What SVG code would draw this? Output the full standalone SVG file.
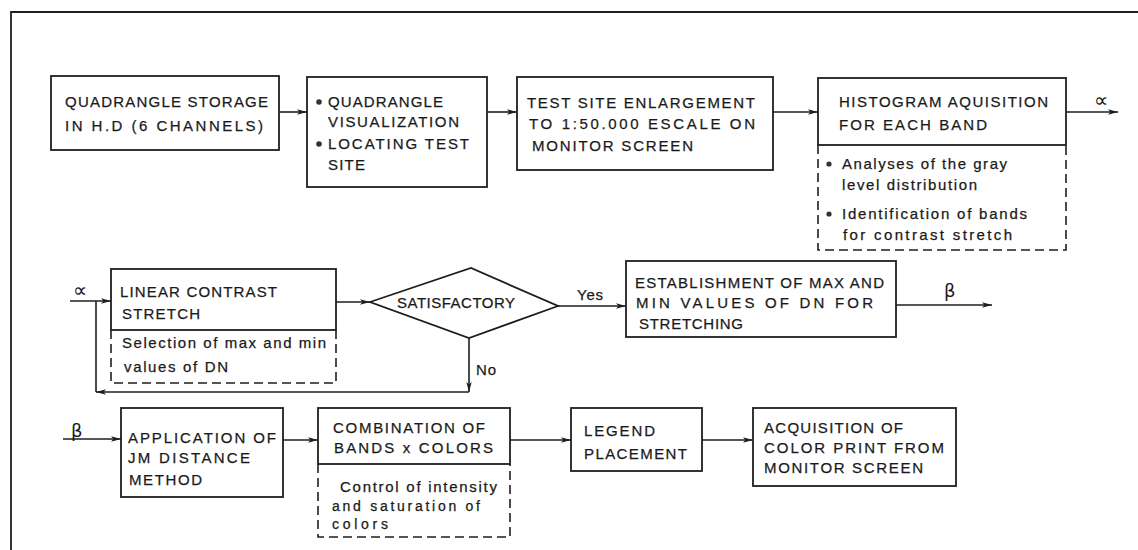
<svg xmlns="http://www.w3.org/2000/svg" width="1138" height="550" viewBox="0 0 1138 550">
<defs>
<style>
.b{fill:none;stroke:#1e1e1e;stroke-width:1.8}
.d{fill:none;stroke:#1e1e1e;stroke-width:1.6;stroke-dasharray:9 5}
.c{fill:none;stroke:#1e1e1e;stroke-width:1.6}
.t{font-family:"Liberation Sans",Arial,sans-serif;font-size:15px;fill:#1a1a1a;stroke:#1a1a1a;stroke-width:0.25}
.s{font-family:"Liberation Sans",Arial,sans-serif;font-size:15px;fill:#1a1a1a;stroke:#1a1a1a;stroke-width:0.25}
.g{font-family:"DejaVu Sans","Liberation Sans",sans-serif;font-size:20px;fill:#1a1a1a}
.dot{fill:#333}
</style>
<marker id="ah" viewBox="0 0 10 6" refX="10" refY="3" markerWidth="10" markerHeight="6" markerUnits="userSpaceOnUse" orient="auto">
<path d="M0,0.3 L10,3 L0,5.7 L2.5,3 Z" fill="#1e1e1e"/>
</marker>
</defs>
<rect width="1138" height="550" fill="#fff"/>
<path class="b" d="M11,550 V12 H1138"/>

<g id="n1">
<rect class="b" x="51" y="76" width="228" height="74"/>
<text class="t" x="65" y="107" textLength="203" lengthAdjust="spacing">QUADRANGLE STORAGE</text>
<text class="t" x="65" y="131" textLength="198" lengthAdjust="spacing">IN H.D (6 CHANNELS)</text>
</g>

<g id="n2">
<rect class="b" x="307" y="77" width="180" height="110"/>
<circle class="dot" cx="319" cy="102" r="2.8"/>
<circle class="dot" cx="319" cy="144" r="2.8"/>
<text class="t" x="328" y="107" textLength="115" lengthAdjust="spacing">QUADRANGLE</text>
<text class="t" x="328" y="127" textLength="131" lengthAdjust="spacing">VISUALIZATION</text>
<text class="t" x="328" y="149" textLength="141" lengthAdjust="spacing">LOCATING TEST</text>
<text class="t" x="328" y="170" textLength="37" lengthAdjust="spacing">SITE</text>
</g>

<g id="n3">
<rect class="b" x="517" y="77" width="256" height="93"/>
<text class="t" x="527" y="108" textLength="228" lengthAdjust="spacing">TEST SITE ENLARGEMENT</text>
<text class="t" x="529" y="129" textLength="226" lengthAdjust="spacing">TO  1:50.000 ESCALE ON</text>
<text class="t" x="532" y="151" textLength="161" lengthAdjust="spacing">MONITOR SCREEN</text>
</g>

<g id="n4">
<rect class="b" x="818" y="78" width="248" height="67"/>
<path class="d" d="M818,145 V250 H1066 V145"/>
<text class="t" x="839" y="107" textLength="209" lengthAdjust="spacing">HISTOGRAM AQUISITION</text>
<text class="t" x="839" y="130" textLength="148" lengthAdjust="spacing">FOR EACH BAND</text>
<circle class="dot" cx="829" cy="164" r="2.6"/>
<circle class="dot" cx="829" cy="214" r="2.6"/>
<text class="s" x="842" y="169" textLength="165" lengthAdjust="spacing">Analyses of the gray</text>
<text class="s" x="842" y="190" textLength="135" lengthAdjust="spacing">level distribution</text>
<text class="s" x="842" y="219" textLength="185" lengthAdjust="spacing">Identification of bands</text>
<text class="s" x="843" y="240" textLength="169" lengthAdjust="spacing">for contrast stretch</text>
</g>

<g id="n5">
<rect class="b" x="111" y="269" width="225" height="61"/>
<path class="d" d="M111,330 V383 H336 V330"/>
<text class="t" x="120" y="297" textLength="157" lengthAdjust="spacing">LINEAR CONTRAST</text>
<text class="t" x="122" y="319" textLength="78" lengthAdjust="spacing">STRETCH</text>
<text class="s" x="122" y="348" textLength="204" lengthAdjust="spacing">Selection of max and min</text>
<text class="s" x="124" y="372" textLength="104" lengthAdjust="spacing">values of DN</text>
</g>

<g id="n6">
<path class="b" d="M370,302 L471,268 L558,306 L469,338 Z"/>
<text class="t" x="397" y="308" textLength="118" lengthAdjust="spacing">SATISFACTORY</text>
</g>

<g id="n7">
<rect class="b" x="626" y="261" width="270" height="76"/>
<text class="t" x="635" y="288" textLength="249" lengthAdjust="spacing">ESTABLISHMENT OF MAX AND</text>
<text class="t" x="636" y="308" textLength="237" lengthAdjust="spacing">MIN VALUES OF DN FOR</text>
<text class="t" x="639" y="329" textLength="104" lengthAdjust="spacing">STRETCHING</text>
</g>

<g id="n8">
<rect class="b" x="121" y="408" width="162" height="89"/>
<text class="t" x="128" y="443" textLength="148" lengthAdjust="spacing">APPLICATION OF</text>
<text class="t" x="128" y="463" textLength="122" lengthAdjust="spacing">JM DISTANCE</text>
<text class="t" x="129" y="485" textLength="73" lengthAdjust="spacing">METHOD</text>
</g>

<g id="n9">
<rect class="b" x="318" y="408" width="192" height="56"/>
<path class="d" d="M318,464 V537 H510 V464"/>
<text class="t" x="333" y="433" textLength="152" lengthAdjust="spacing">COMBINATION OF</text>
<text class="t" x="334" y="453" textLength="159" lengthAdjust="spacing">BANDS x COLORS</text>
<text class="s" x="340" y="492" textLength="157" lengthAdjust="spacing">Control of intensity</text>
<text class="s" x="332" y="511" textLength="148" lengthAdjust="spacing" style="font-size:14px">and saturation of</text>
<text class="s" x="332" y="529" textLength="56" lengthAdjust="spacing" style="font-size:14px">colors</text>
</g>

<g id="n10">
<rect class="b" x="571" y="408" width="131" height="63"/>
<text class="t" x="584" y="436" textLength="71" lengthAdjust="spacing">LEGEND</text>
<text class="t" x="584" y="459" textLength="103" lengthAdjust="spacing">PLACEMENT</text>
</g>

<g id="n11">
<rect class="b" x="753" y="408" width="203" height="78"/>
<text class="t" x="764" y="433" textLength="139" lengthAdjust="spacing">ACQUISITION OF</text>
<text class="t" x="764" y="453" textLength="180" lengthAdjust="spacing">COLOR PRINT FROM</text>
<text class="t" x="764" y="473" textLength="159" lengthAdjust="spacing">MONITOR SCREEN</text>
</g>

<g id="connectors">
<path class="c" d="M1066,112 H1118" marker-end="url(#ah)"/>
<path class="c" d="M279,112 H307" marker-end="url(#ah)"/>
<path class="c" d="M487,112 H517" marker-end="url(#ah)"/>
<path class="c" d="M773,112 H818" marker-end="url(#ah)"/>
<text class="g" x="1094" y="107">∝</text>
<path class="c" d="M70,301 H111" marker-end="url(#ah)"/>
<text class="g" x="73" y="297">∝</text>
<path class="c" d="M336,302 H370" marker-end="url(#ah)"/>
<path class="c" d="M558,306 H626" marker-end="url(#ah)"/>
<text class="t" x="577" y="300" textLength="26" lengthAdjust="spacing">Yes</text>
<path class="c" d="M469,338 V392" marker-end="url(#ah)"/>
<text class="t" x="476" y="375" textLength="20" lengthAdjust="spacing">No</text>
<path class="c" d="M469,392 H96" marker-end="url(#ah)"/>
<path class="c" d="M96,392 V301"/>
<path class="c" d="M896,305 H992" marker-end="url(#ah)"/>
<text class="g" x="944" y="297" style="font-size:18px">β</text>
<path class="c" d="M63,439 H121" marker-end="url(#ah)"/>
<text class="g" x="71" y="437" style="font-size:18px">β</text>
<path class="c" d="M283,440 H318" marker-end="url(#ah)"/>
<path class="c" d="M510,440 H571" marker-end="url(#ah)"/>
<path class="c" d="M702,440 H753" marker-end="url(#ah)"/>
</g>
</svg>
